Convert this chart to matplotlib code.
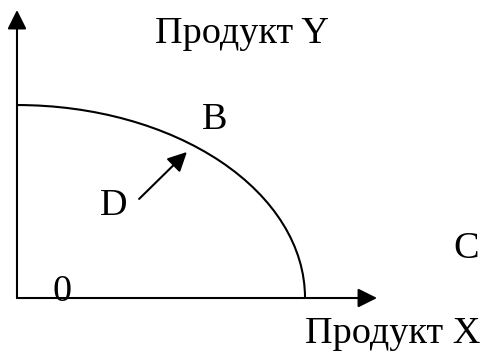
import matplotlib.pyplot as plt
from matplotlib.patches import Arc

# production possibilities frontier (intercepts, arbitrary units)
x_max = 10.0
y_max = 6.7
# axis lengths
x_axis_end = 12.5
y_axis_end = 10.0
# point labels
labels = ['B', 'D', 'C', '0']
label_x = [6.42, 2.88, 15.14, 1.22]
label_y = [5.87, 2.88, 1.39, -0.10]
# arrow from D toward the frontier
d_tail = (4.24, 3.44)
d_tip = (5.90, 5.07)

plt.rcParams['font.family'] = ['Liberation Serif', 'DejaVu Serif']

fig = plt.figure(figsize=(4.81, 3.54), dpi=100)
ax = fig.add_axes([0, 0, 1, 1])
ax.set_xlim(-0.59, 16.11)
ax.set_ylim(-1.944, 10.347)
ax.axis('off')

arrow = dict(arrowstyle='-|>,head_length=0.58,head_width=0.29', color='black',
             lw=1.5, mutation_scale=20, shrinkA=0, shrinkB=0)
ax.annotate('', xy=(x_axis_end, 0), xytext=(0, 0), arrowprops=arrow)
ax.annotate('', xy=(0, y_axis_end), xytext=(0, 0), arrowprops=arrow)
ax.annotate('', xy=d_tip, xytext=d_tail, arrowprops=arrow)

ax.add_patch(Arc((0, 0), 2 * x_max, 2 * y_max, theta1=0, theta2=90,
                 color='black', lw=1.5))

fs = 27.5
for s, x, y in zip(labels, label_x, label_y):
    ax.text(x, y, s, fontsize=fs, ha='left', va='baseline')
ax.text(4.79, 8.85, 'Продукт Y', fontsize=fs, ha='left', va='baseline')
ax.text(10.0, -1.56, 'Продукт X', fontsize=fs, ha='left', va='baseline')

fig.savefig('out.png', dpi=100)
